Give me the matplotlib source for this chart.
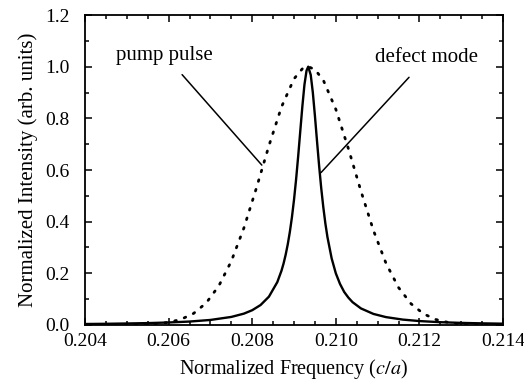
import matplotlib
matplotlib.use("Agg")
import matplotlib.pyplot as plt
from matplotlib.ticker import MultipleLocator, FormatStrFormatter

# Defect mode (solid)
defect_x = [0.2040, 0.2045, 0.2050, 0.2055, 0.2060, 0.2065, 0.2070, 0.2075, 0.2078,
            0.2080, 0.2082, 0.2084, 0.2086, 0.2087, 0.20875, 0.2088, 0.20885, 0.2089,
            0.20895, 0.2090, 0.20905, 0.2091, 0.20915, 0.2092, 0.20925, 0.2093,
            0.20934, 0.2094, 0.20945, 0.2095, 0.20955, 0.2096, 0.20965, 0.2097,
            0.20975, 0.2098, 0.2099, 0.2100, 0.2101, 0.2102, 0.2103,
            0.2104, 0.2106, 0.2109, 0.2112, 0.2116, 0.2120, 0.2125, 0.2130, 0.2135, 0.2140]
defect_y = [0.0038, 0.0046, 0.0058, 0.0073, 0.0097, 0.0133, 0.0195, 0.0312, 0.0439,
            0.0572, 0.0773, 0.1097, 0.1659, 0.210, 0.238, 0.2719, 0.312, 0.360,
            0.417, 0.485, 0.564, 0.654, 0.751, 0.847, 0.931, 0.985,
            1.000, 0.968, 0.900, 0.810, 0.712, 0.617, 0.531, 0.457,
            0.393, 0.340, 0.258, 0.200, 0.159, 0.128, 0.106,
            0.0884, 0.0642, 0.0428, 0.0305, 0.0209, 0.0152, 0.0108, 0.0081, 0.0063, 0.0050]

# Pump pulse (dotted)
pump_x = [0.2040, 0.2050, 0.2055, 0.2060, 0.2063, 0.2066, 0.2069, 0.2072, 0.2075,
          0.2078, 0.2081, 0.2084, 0.2087, 0.2090, 0.2092, 0.20934, 0.2095, 0.2097,
          0.2100, 0.2103, 0.2106, 0.2109, 0.2112, 0.2115, 0.2118, 0.2121, 0.2124,
          0.2127, 0.2130, 0.2135, 0.2140]
pump_y = [0.0000, 0.0004, 0.0023, 0.0100, 0.0220, 0.0450, 0.0854, 0.151, 0.247,
          0.375, 0.530, 0.694, 0.844, 0.953, 0.992, 1.000, 0.989, 0.948,
          0.835, 0.683, 0.519, 0.366, 0.239, 0.145, 0.082, 0.043, 0.0209,
          0.0094, 0.0039, 0.0008, 0.0000]

xticks = [0.204, 0.206, 0.208, 0.210, 0.212, 0.214]
yticks = [0.0, 0.2, 0.4, 0.6, 0.8, 1.0, 1.2]

plt.rcParams['font.family'] = ['Liberation Serif', 'DejaVu Serif']
plt.rcParams['mathtext.fontset'] = 'stix'

fig = plt.figure(figsize=(5.24, 3.9), dpi=100)
ax = fig.add_axes([0.1622, 0.1667, 0.7978, 0.7948])

ax.plot(pump_x, pump_y, color='black', lw=2.0, linestyle=(0, (0.6, 3.0)),
        dash_capstyle='round')
ax.plot(defect_x, defect_y, color='black', lw=1.7)

ax.annotate('pump pulse', xy=(0.20823, 0.619), xytext=(0.20591, 1.045),
            ha='center', va='center', fontsize=15,
            arrowprops=dict(arrowstyle='-', color='black', lw=1.1,
                            shrinkA=7, shrinkB=0))
ax.annotate('defect mode', xy=(0.209646, 0.590), xytext=(0.21218, 1.034),
            ha='center', va='center', fontsize=15,
            arrowprops=dict(arrowstyle='-', color='black', lw=1.1,
                            shrinkA=7, shrinkB=0))

ax.set_xlim(0.204, 0.214)
ax.set_ylim(0.0, 1.2)
ax.set_xticks(xticks)
ax.set_yticks(yticks)
ax.xaxis.set_major_formatter(FormatStrFormatter('%.3f'))
ax.yaxis.set_major_formatter(FormatStrFormatter('%.1f'))
ax.xaxis.set_minor_locator(MultipleLocator(0.0005))
ax.yaxis.set_minor_locator(MultipleLocator(0.1))
ax.tick_params(which='both', direction='in', top=True, right=True, width=1.1)
ax.tick_params(which='major', length=5, labelsize=14)
ax.tick_params(axis='x', which='major', pad=6)
ax.tick_params(axis='y', which='major', pad=11)
ax.tick_params(which='minor', length=3)
for s in ax.spines.values():
    s.set_linewidth(1.3)

ax.set_xlabel('Normalized Frequency ($c/a$)', fontsize=14.5, labelpad=5)
ax.set_ylabel('Normalized Intensity (arb. units)', fontsize=15, labelpad=5)

fig.savefig('out.png', dpi=100)
